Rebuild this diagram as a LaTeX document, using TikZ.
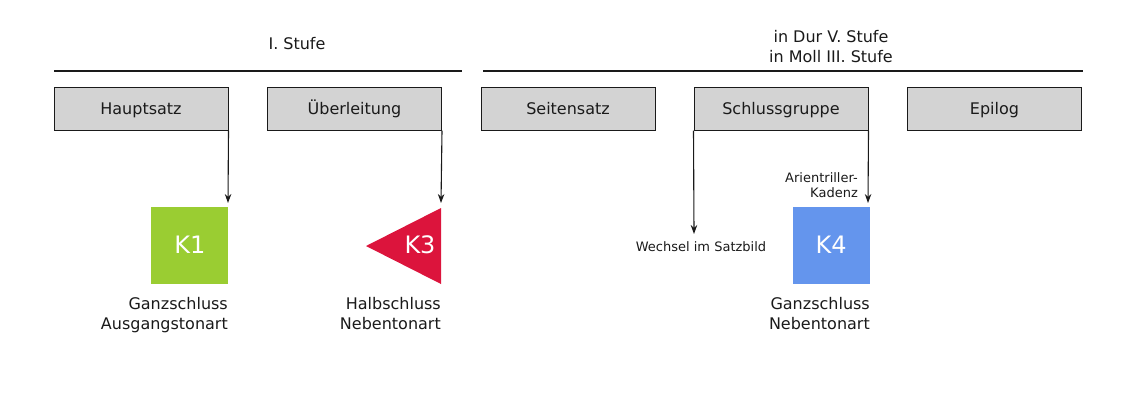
\documentclass[tikz,border=0pt]{standalone}
\usepackage{fontspec}
\setmainfont{DejaVu Sans}
\usetikzlibrary{arrows.meta}
\definecolor{boxgray}{HTML}{D3D3D3}
\definecolor{kgreen}{HTML}{9ACD32}
\definecolor{kred}{HTML}{DC143C}
\definecolor{kblue}{HTML}{6495ED}
\definecolor{ink}{HTML}{1A1A1A}
\begin{document}
\begin{tikzpicture}[x=1pt,y=-1pt,
  partbox/.style={draw=ink,fill=boxgray,line width=1pt,minimum width=174pt,minimum height=43pt,inner sep=0pt,
    text height=11.7pt,text depth=0pt,
    font=\fontsize{16}{19}\selectfont,text=ink},
  hdr/.style={font=\fontsize{16}{20}\selectfont,text=ink,align=center,inner sep=0pt},
  lab/.style={font=\fontsize{16}{20}\selectfont,text=ink,align=right,inner sep=0pt},
  small/.style={font=\fontsize{13}{16}\selectfont,text=ink,inner sep=0pt},
  ktext/.style={font=\fontsize{24}{28}\selectfont,text=white,inner sep=0pt,text height=17.5pt,text depth=0pt},
  ksquare/.style={minimum width=77pt,minimum height=77pt,inner sep=0pt},
  rule/.style={draw=ink,line width=1.3pt},
  conn/.style={draw=ink,line width=1.1pt,-{Stealth[length=9pt,width=6.5pt]}}]
\useasboundingbox (0,0) rectangle (1123,400);
% headers
\node[hdr] (h1) at (297,44) {I. Stufe};
\node[hdr] (h2) at (831,47) {in Dur V. Stufe\\[0pt]in Moll III. Stufe};
\coordinate (l1a) at (54,71); \coordinate (l1b) at (462,71);
\coordinate (l2a) at (483,71); \coordinate (l2b) at (1083,71);
\draw[rule] (l1a) -- (l1b);
\draw[rule] (l2a) -- (l2b);
% boxes
\node[partbox] (hs) at (141,108.5) {Hauptsatz};
\node[partbox] (ub) at (354.5,108.5) {Überleitung};
\node[partbox] (ss) at (568,108.5) {Seitensatz};
\node[partbox] (sg) at (781,108.5) {Schlussgruppe};
\node[partbox] (ep) at (994.5,108.5) {Epilog};
% K1
\node[ksquare,fill=kgreen] (k1) at (189.5,245.5) {};
\node[ktext] (k1t) at (190,245) {K1};
% K3
\coordinate (t1) at (441,208); \coordinate (t2) at (441,284); \coordinate (t3) at (366,246);
\fill[kred] (t1) -- (t2) -- (t3) -- cycle;
\node[ktext] (k3t) at (420,245) {K3};
% K4
\node[ksquare,fill=kblue] (k4) at (831.5,245.5) {};
\node[ktext] (k4t) at (831,245) {K4};
% arrows
\coordinate (k1top) at (228,203);
\draw[conn] (hs.south east) -- (k1top);
\coordinate (k3top) at (441,203);
\draw[conn] (ub.south east) -- (k3top);
\coordinate (wend) at (694,234);
\draw[conn] (sg.south west) -- (wend);
\coordinate (k4top) at (868,203);
\draw[conn] (sg.south east) -- (k4top);
% labels
\node[small] (wl) at (701,247) {Wechsel im Satzbild};
\node[small,align=right,anchor=east] (al) at (858,185) {Arientriller-\\[-1pt]Kadenz};
\node[lab,anchor=north east] (g1) at (228,297) {Ganzschluss\\Ausgangstonart};
\node[lab,anchor=north east] (g3) at (441,297) {Halbschluss\\Nebentonart};
\node[lab,anchor=north east] (g4) at (870,297) {Ganzschluss\\Nebentonart};
\end{tikzpicture}
\end{document}
